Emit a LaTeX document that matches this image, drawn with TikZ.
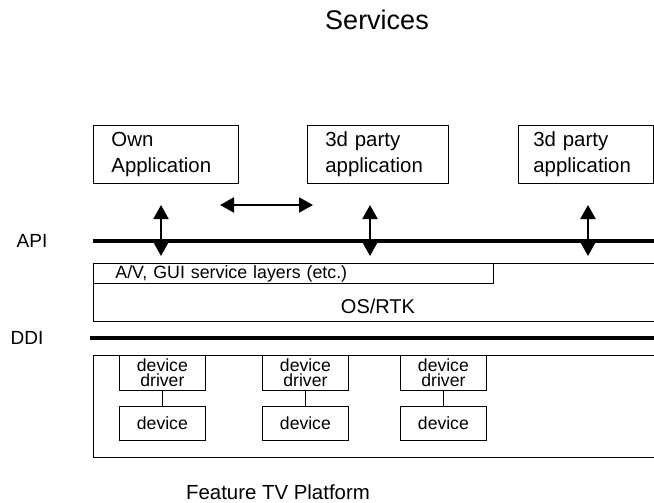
\documentclass[tikz,border=0pt]{standalone}
\usepackage{fontspec}
\setmainfont{Liberation Sans}
\usetikzlibrary{arrows.meta}

\begin{document}
\begin{tikzpicture}[x=0.5pt, y=-0.5pt,
		app/.style={draw, rectangle, anchor=north west, align=left, inner xsep=9pt, minimum height=29pt, font=\fontsize{10.2}{13}\selectfont},
		layer/.style={draw, rectangle, anchor=north west, inner sep=0pt},
		drv/.style={draw, rectangle, anchor=north west, align=center, inner sep=0pt, minimum width=43pt, minimum height=17.5pt, font=\fontsize{8.8}{7.3}\selectfont\setlength{\lineskiplimit}{-8pt}},
		dev/.style={draw, rectangle, anchor=north west, inner sep=0pt, minimum width=43pt, minimum height=17pt, font=\fontsize{8.8}{10}\selectfont},
		bus/.style={line width=1.8pt},
		dbl/.style={line width=1pt, {Triangle[width=7.5pt,length=7pt]}-{Triangle[width=7.5pt,length=7pt]}}]
				\clip (0,0) rectangle (654,503);
				\node[font=\fontsize{13.5}{15}\selectfont] (SRV)at(377, 20) {Services};
				\node[app, text width=54.5pt] (OWN)at(93, 125) {Own\\Application};
				\node[app, text width=52.5pt] (TP1)at(307, 125) {3d party\\application};
				\node[app, text width=52.5pt, inner xsep=7.5pt] (TP2)at(518, 125) {3d party\\application};
				\coordinate (HL)at(220, 205);
				\coordinate (HR)at(313, 205);
				\draw[dbl] (HL) -- (HR);
				\node[font=\fontsize{9.5}{11}\selectfont] (API)at(32, 241) {API};
				\coordinate (APIL)at(93, 241);
				\coordinate (APIR)at(660, 241);
				\draw[bus] (APIL) -- (APIR);
				\foreach \x [count=\i] in {161, 370, 588} {
					\coordinate (UP\i)at(\x, 205);
					\coordinate (DN\i)at(\x, 256);
					\draw[dbl] (UP\i) -- (DN\i);
				}
				\node[layer, minimum width=283.5pt, minimum height=29pt] (OS)at(93, 263) {};
				\node[font=\fontsize{10}{12}\selectfont] (OSL)at(378, 306) {OS/RTK};
				\node[layer, minimum width=200pt, minimum height=10pt, align=left, text width=178pt, inner xsep=11pt, font=\fontsize{8.9}{10}\selectfont] (AV)at(93, 263) {A/V, GUI service layers (etc.)};
				\node[font=\fontsize{9.5}{11}\selectfont] (DDI)at(27, 338) {DDI};
				\coordinate (DDIL)at(90, 338);
				\coordinate (DDIR)at(660, 338);
				\draw[bus] (DDIL) -- (DDIR);
				\node[layer, minimum width=283.5pt, minimum height=51pt] (PF)at(93, 355) {};
				\foreach \x [count=\i] in {119, 262, 400} {
					\node[drv] (DRV\i)at(\x, 355) {device\\driver};
					\node[dev] (DEV\i)at(\x, 406) {device};
					\draw (DRV\i) -- (DEV\i);
				}
				\node[font=\fontsize{10.2}{12}\selectfont] (FTV)at(278, 492) {Feature TV Platform};
			\end{tikzpicture}
\end{document}
